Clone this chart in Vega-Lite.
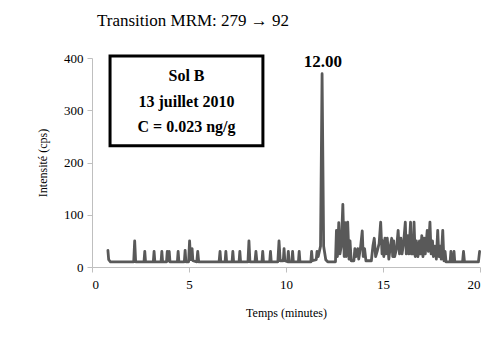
{
  "$schema": "https://vega.github.io/schema/vega-lite/v6.json",
  "width": 388,
  "height": 209,
  "autosize": {"type": "none"},
  "padding": {"left": 92, "top": 58, "right": 19, "bottom": 71},
  "background": "white",
  "title": {
    "text": "Transition MRM: 279 → 92",
    "font": "Liberation Serif",
    "fontSize": 17,
    "fontWeight": "normal",
    "color": "black",
    "anchor": "start",
    "frame": "group",
    "dx": 5,
    "offset": 22
  },
  "config": {
    "view": {"stroke": null},
    "axis": {
      "grid": false,
      "domainColor": "#bfbfbf",
      "tickColor": "#bfbfbf",
      "tickSize": 5,
      "labelFont": "Liberation Serif",
      "labelFontSize": 13,
      "labelColor": "black",
      "titleFont": "Liberation Serif",
      "titleFontSize": 12,
      "titleFontWeight": "normal",
      "titleColor": "black"
    }
  },
  "data": {
    "values": [
      {"t": 0.82, "v": 32}, {"t": 0.86, "v": 14}, {"t": 0.95, "v": 10},
      {"t": 2.15, "v": 10}, {"t": 2.2, "v": 50}, {"t": 2.25, "v": 10},
      {"t": 2.68, "v": 10}, {"t": 2.72, "v": 30}, {"t": 2.76, "v": 10},
      {"t": 3.16, "v": 10}, {"t": 3.2, "v": 30}, {"t": 3.24, "v": 10},
      {"t": 3.56, "v": 10}, {"t": 3.6, "v": 30}, {"t": 3.64, "v": 10},
      {"t": 3.84, "v": 10}, {"t": 3.88, "v": 30}, {"t": 3.92, "v": 12}, {"t": 3.98, "v": 30}, {"t": 4.02, "v": 10},
      {"t": 4.4, "v": 10}, {"t": 4.44, "v": 30}, {"t": 4.48, "v": 10},
      {"t": 4.76, "v": 10}, {"t": 4.8, "v": 32}, {"t": 4.84, "v": 10},
      {"t": 4.98, "v": 10}, {"t": 5.03, "v": 50}, {"t": 5.08, "v": 14}, {"t": 5.16, "v": 35}, {"t": 5.2, "v": 12},
      {"t": 5.4, "v": 10}, {"t": 5.45, "v": 30}, {"t": 5.5, "v": 10},
      {"t": 6.55, "v": 10}, {"t": 6.6, "v": 30}, {"t": 6.64, "v": 10},
      {"t": 6.86, "v": 10}, {"t": 6.9, "v": 30}, {"t": 6.94, "v": 10},
      {"t": 7.22, "v": 10}, {"t": 7.26, "v": 30}, {"t": 7.3, "v": 10},
      {"t": 7.58, "v": 10}, {"t": 7.62, "v": 30}, {"t": 7.66, "v": 10},
      {"t": 8.04, "v": 10}, {"t": 8.09, "v": 50}, {"t": 8.14, "v": 10},
      {"t": 8.4, "v": 10}, {"t": 8.45, "v": 30}, {"t": 8.5, "v": 10},
      {"t": 8.76, "v": 10}, {"t": 8.8, "v": 30}, {"t": 8.84, "v": 10},
      {"t": 9.16, "v": 10}, {"t": 9.2, "v": 30}, {"t": 9.24, "v": 10},
      {"t": 9.58, "v": 10}, {"t": 9.64, "v": 50}, {"t": 9.7, "v": 12},
      {"t": 9.86, "v": 12}, {"t": 9.9, "v": 35}, {"t": 9.94, "v": 12},
      {"t": 10.08, "v": 10}, {"t": 10.12, "v": 30}, {"t": 10.16, "v": 10},
      {"t": 10.3, "v": 10}, {"t": 10.34, "v": 30}, {"t": 10.38, "v": 10},
      {"t": 10.64, "v": 10}, {"t": 10.68, "v": 30}, {"t": 10.72, "v": 10},
      {"t": 11.28, "v": 10}, {"t": 11.32, "v": 30}, {"t": 11.36, "v": 12},
      {"t": 11.56, "v": 14}, {"t": 11.6, "v": 30}, {"t": 11.66, "v": 20},
      {"t": 11.78, "v": 40}, {"t": 11.86, "v": 370}, {"t": 11.94, "v": 40},
      {"t": 12.05, "v": 14}, {"t": 12.15, "v": 10},
      {"t": 12.55, "v": 10}, {"t": 12.6, "v": 70}, {"t": 12.65, "v": 20}, {"t": 12.72, "v": 85}, {"t": 12.78, "v": 25},
      {"t": 12.85, "v": 40}, {"t": 12.93, "v": 120}, {"t": 13.0, "v": 20}, {"t": 13.05, "v": 85}, {"t": 13.1, "v": 20},
      {"t": 13.18, "v": 86}, {"t": 13.25, "v": 15}, {"t": 13.3, "v": 50}, {"t": 13.36, "v": 12},
      {"t": 13.5, "v": 12}, {"t": 13.55, "v": 35}, {"t": 13.6, "v": 20}, {"t": 13.7, "v": 35}, {"t": 13.75, "v": 15},
      {"t": 13.85, "v": 40}, {"t": 13.93, "v": 69}, {"t": 13.98, "v": 20}, {"t": 14.05, "v": 35}, {"t": 14.12, "v": 12},
      {"t": 14.4, "v": 12}, {"t": 14.48, "v": 40}, {"t": 14.55, "v": 55}, {"t": 14.62, "v": 20}, {"t": 14.7, "v": 30},
      {"t": 14.8, "v": 45}, {"t": 14.88, "v": 86}, {"t": 14.95, "v": 25}, {"t": 15.0, "v": 50}, {"t": 15.04, "v": 20},
      {"t": 15.1, "v": 55}, {"t": 15.15, "v": 25}, {"t": 15.22, "v": 55}, {"t": 15.3, "v": 15}, {"t": 15.38, "v": 40},
      {"t": 15.45, "v": 55}, {"t": 15.5, "v": 20}, {"t": 15.55, "v": 50}, {"t": 15.6, "v": 20}, {"t": 15.7, "v": 35},
      {"t": 15.78, "v": 70}, {"t": 15.85, "v": 25}, {"t": 15.92, "v": 55}, {"t": 15.98, "v": 25}, {"t": 16.06, "v": 45},
      {"t": 16.15, "v": 86}, {"t": 16.2, "v": 25}, {"t": 16.28, "v": 60}, {"t": 16.33, "v": 25}, {"t": 16.42, "v": 86},
      {"t": 16.46, "v": 25}, {"t": 16.5, "v": 55}, {"t": 16.55, "v": 25}, {"t": 16.6, "v": 86}, {"t": 16.66, "v": 20},
      {"t": 16.72, "v": 50}, {"t": 16.8, "v": 20}, {"t": 16.88, "v": 50}, {"t": 16.93, "v": 25}, {"t": 17.0, "v": 60},
      {"t": 17.06, "v": 20}, {"t": 17.12, "v": 55}, {"t": 17.18, "v": 25}, {"t": 17.28, "v": 70}, {"t": 17.34, "v": 30},
      {"t": 17.42, "v": 86}, {"t": 17.48, "v": 25}, {"t": 17.55, "v": 50}, {"t": 17.6, "v": 20}, {"t": 17.68, "v": 40},
      {"t": 17.75, "v": 15}, {"t": 17.82, "v": 70}, {"t": 17.88, "v": 20}, {"t": 17.95, "v": 40}, {"t": 18.0, "v": 15},
      {"t": 18.08, "v": 70}, {"t": 18.14, "v": 12}, {"t": 18.2, "v": 30}, {"t": 18.25, "v": 10},
      {"t": 18.46, "v": 10}, {"t": 18.5, "v": 30}, {"t": 18.54, "v": 10},
      {"t": 18.62, "v": 10}, {"t": 18.66, "v": 30}, {"t": 18.7, "v": 10},
      {"t": 19.1, "v": 10}, {"t": 19.15, "v": 30}, {"t": 19.2, "v": 10},
      {"t": 19.92, "v": 10}, {"t": 19.98, "v": 30}
    ]
  },
  "layer": [
    {
      "mark": {"type": "line", "color": "#595959", "strokeWidth": 2.8, "strokeJoin": "round", "strokeCap": "round"},
      "encoding": {
        "x": {"field": "t", "type": "quantitative", "scale": {"domain": [0, 20], "nice": false},
              "axis": {"values": [0, 5, 10, 15, 20], "title": "Temps (minutes)", "labelFont": "Liberation Serif", "labelFontSize": 13, "titleFont": "Liberation Serif", "labelPadding": 6, "titlePadding": 16}},
        "y": {"field": "v", "type": "quantitative", "scale": {"domain": [0, 400], "nice": false},
              "axis": {"values": [0, 50, 100, 150, 200, 250, 300, 350, 400], "title": "Intensité (cps)", "labelFont": "Liberation Serif", "labelFontSize": 13, "titleFont": "Liberation Serif", "labelPadding": 4, "titlePadding": 14}}
      }
    },
    {
      "data": {"values": [{"x1": 0.93, "x2": 8.81, "y1": 404, "y2": 232}]},
      "mark": {"type": "rect", "fill": "white", "stroke": "black", "strokeWidth": 3},
      "encoding": {
        "x": {"field": "x1", "type": "quantitative"},
        "x2": {"field": "x2"},
        "y": {"field": "y1", "type": "quantitative"},
        "y2": {"field": "y2"}
      }
    },
    {
      "data": {"values": [
        {"x": 4.87, "y": 366, "label": "Sol B"},
        {"x": 4.87, "y": 316, "label": "13 juillet 2010"},
        {"x": 4.87, "y": 268, "label": "C = 0.023 ng/g"}
      ]},
      "mark": {"type": "text", "font": "Liberation Serif", "fontSize": 16, "fontWeight": "bold", "color": "black", "baseline": "middle", "align": "center"},
      "encoding": {
        "x": {"field": "x", "type": "quantitative"},
        "y": {"field": "y", "type": "quantitative"},
        "text": {"field": "label"}
      }
    },
    {
      "data": {"values": [{"x": 11.9, "y": 392, "label": "12.00"}]},
      "mark": {"type": "text", "font": "Liberation Serif", "fontSize": 17, "fontWeight": "bold", "color": "black", "baseline": "middle", "align": "center"},
      "encoding": {
        "x": {"field": "x", "type": "quantitative"},
        "y": {"field": "y", "type": "quantitative"},
        "text": {"field": "label"}
      }
    }
  ]
}
